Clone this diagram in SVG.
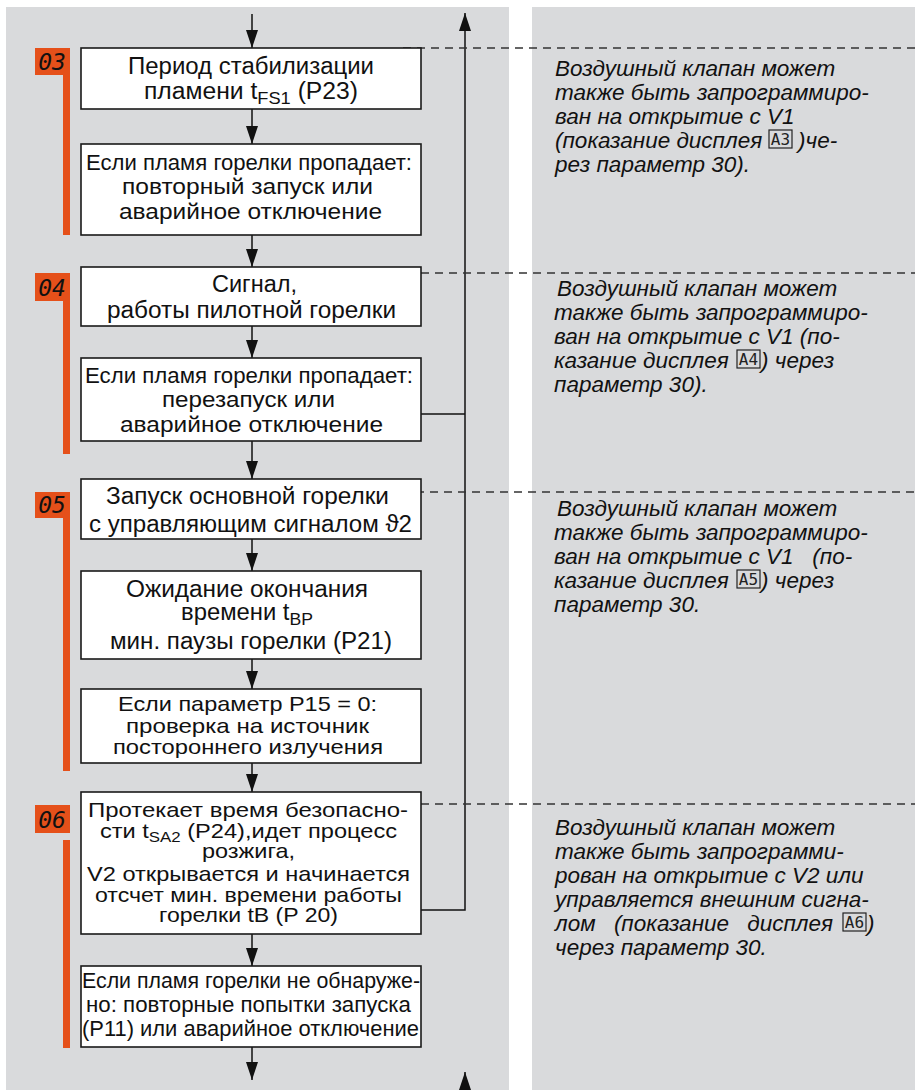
<svg xmlns="http://www.w3.org/2000/svg" width="915" height="1090" viewBox="0 0 915 1090">
<style>
.panel{fill:#D9DADC}
.box{fill:#fff;stroke:#1a1a1a;stroke-width:1.6}
.t{font-family:"Liberation Sans",Arial,sans-serif;fill:#111}
.note{font-family:"Liberation Sans",Arial,sans-serif;font-style:italic;font-size:22.5px;fill:#111}
.ln{stroke:#111;stroke-width:1.5;fill:none}
.dash{stroke:#333;stroke-width:1.3;stroke-dasharray:8 6;fill:none}
.badge{fill:#E5501A}
.bt{font-family:"DejaVu Sans Mono",monospace;font-style:italic;font-size:23px;fill:#111}
.ico{fill:none;stroke:#222;stroke-width:1.2}
.it{font-family:"DejaVu Sans Mono",monospace;font-size:16px;fill:#222}
</style>
<defs>
<marker id="ah" markerUnits="userSpaceOnUse" markerWidth="18" markerHeight="12" refX="18" refY="6" orient="auto">
<path d="M0,0 L18,6 L0,12 z" fill="#111"/>
</marker>
</defs>
<rect class="panel" x="6" y="7" width="503" height="1083"/>
<rect class="panel" x="532" y="7" width="383" height="1083"/>

<g id="connectors">
<path class="ln" d="M252,14 V48" marker-end="url(#ah)"/>
<path class="ln" d="M252,109 V144" marker-end="url(#ah)"/>
<path class="ln" d="M252,235 V267" marker-end="url(#ah)"/>
<path class="ln" d="M252,326 V358" marker-end="url(#ah)"/>
<path class="ln" d="M252,441 V479" marker-end="url(#ah)"/>
<path class="ln" d="M252,539 V571" marker-end="url(#ah)"/>
<path class="ln" d="M252,659 V689" marker-end="url(#ah)"/>
<path class="ln" d="M252,763 V792" marker-end="url(#ah)"/>
<path class="ln" d="M252,934 V966" marker-end="url(#ah)"/>
<path class="ln" d="M252,1047 V1080" marker-end="url(#ah)"/>
<path class="ln" d="M421,910 H465 V13" marker-end="url(#ah)"/>
<path class="ln" d="M421,414 H465"/>
<path class="ln" d="M465,1090 V1072" marker-end="url(#ah)"/>
<path class="dash" d="M403,48 H915"/>
<path class="dash" d="M421,273 H915"/>
<path class="dash" d="M402,492 H915"/>
<path class="dash" d="M421,804 H915"/>
</g>

<g id="badge03"><rect class="badge" x="35" y="48" width="35" height="27"/><rect class="badge" x="63" y="75" width="7" height="160"/><text class="bt" x="52" y="70" text-anchor="middle">03</text></g>
<g id="badge04"><rect class="badge" x="35" y="273" width="35" height="28"/><rect class="badge" x="63" y="301" width="7" height="153"/><text class="bt" x="52" y="296" text-anchor="middle">04</text></g>
<g id="badge05"><rect class="badge" x="35" y="492" width="35" height="26"/><rect class="badge" x="63" y="518" width="7" height="253"/><text class="bt" x="52" y="513" text-anchor="middle">05</text></g>
<g id="badge06"><rect class="badge" x="35" y="805" width="35" height="28"/><rect class="badge" x="63" y="840" width="7" height="208"/><text class="bt" x="52" y="828" text-anchor="middle">06</text></g>

<g id="box1"><rect class="box" x="81" y="48" width="340" height="61"/>
<text class="t" font-size="23" x="128" y="74" textLength="246" lengthAdjust="spacingAndGlyphs">Период стабилизации</text>
<text class="t" font-size="23" x="144" y="99" textLength="214" lengthAdjust="spacingAndGlyphs">пламени t<tspan font-size="17" dy="5">FS1</tspan><tspan dy="-5"> (P23)</tspan></text></g>

<g id="box2"><rect class="box" x="81" y="144" width="340" height="91"/>
<text class="t" font-size="22" x="86" y="170" textLength="326" lengthAdjust="spacingAndGlyphs">Если пламя горелки пропадает:</text>
<text class="t" font-size="22" x="122" y="194" textLength="251" lengthAdjust="spacingAndGlyphs">повторный запуск или</text>
<text class="t" font-size="22" x="119" y="219" textLength="263" lengthAdjust="spacingAndGlyphs">аварийное отключение</text></g>

<g id="box3"><rect class="box" x="81" y="267" width="340" height="59"/>
<text class="t" font-size="23" x="212" y="292" textLength="85" lengthAdjust="spacingAndGlyphs">Сигнал,</text>
<text class="t" font-size="23" x="107" y="318" textLength="289" lengthAdjust="spacingAndGlyphs">работы пилотной горелки</text></g>

<g id="box4"><rect class="box" x="81" y="358" width="340" height="83"/>
<text class="t" font-size="22" x="85" y="383" textLength="328" lengthAdjust="spacingAndGlyphs">Если пламя горелки пропадает:</text>
<text class="t" font-size="22" x="162" y="407" textLength="173" lengthAdjust="spacingAndGlyphs">перезапуск или</text>
<text class="t" font-size="22" x="120" y="432" textLength="263" lengthAdjust="spacingAndGlyphs">аварийное отключение</text></g>

<g id="box5"><rect class="box" x="81" y="479" width="340" height="60"/>
<text class="t" font-size="23" x="106" y="504" textLength="283" lengthAdjust="spacingAndGlyphs">Запуск основной горелки</text>
<text class="t" font-size="23" x="89" y="532" textLength="323" lengthAdjust="spacingAndGlyphs">с управляющим сигналом ϑ2</text></g>

<g id="box6"><rect class="box" x="81" y="571" width="340" height="88"/>
<text class="t" font-size="23" x="126" y="597" textLength="242" lengthAdjust="spacingAndGlyphs">Ожидание окончания</text>
<text class="t" font-size="23" x="181" y="620" textLength="132" lengthAdjust="spacingAndGlyphs">времени t<tspan font-size="17" dy="5">BP</tspan></text>
<text class="t" font-size="23" x="110" y="649" textLength="282" lengthAdjust="spacingAndGlyphs">мин. паузы горелки (P21)</text></g>

<g id="box7"><rect class="box" x="81" y="689" width="340" height="74"/>
<text class="t" font-size="21" x="118" y="711" textLength="259" lengthAdjust="spacingAndGlyphs">Если параметр P15 = 0:</text>
<text class="t" font-size="21" x="126" y="733" textLength="243" lengthAdjust="spacingAndGlyphs">проверка на источник</text>
<text class="t" font-size="21" x="113" y="754" textLength="270" lengthAdjust="spacingAndGlyphs">постороннего излучения</text></g>

<g id="box8"><rect class="box" x="81" y="792" width="340" height="142"/>
<text class="t" font-size="21" x="88" y="817" textLength="320" lengthAdjust="spacingAndGlyphs">Протекает время безопасно-</text>
<text class="t" font-size="21" x="100" y="838" textLength="297" lengthAdjust="spacingAndGlyphs">сти t<tspan font-size="15" dy="4">SA2</tspan><tspan dy="-4"> (P24),идет процесс</tspan></text>
<text class="t" font-size="21" x="202" y="858" textLength="93" lengthAdjust="spacingAndGlyphs">розжига,</text>
<text class="t" font-size="21" x="87" y="881" textLength="323" lengthAdjust="spacingAndGlyphs">V2 открывается и начинается</text>
<text class="t" font-size="21" x="95" y="902" textLength="307" lengthAdjust="spacingAndGlyphs">отсчет мин. времени работы</text>
<text class="t" font-size="21" x="159" y="922" textLength="179" lengthAdjust="spacingAndGlyphs">горелки tB (P 20)</text></g>

<g id="box9"><rect class="box" x="81" y="966" width="340" height="81"/>
<text class="t" font-size="22" x="82" y="988" textLength="338" lengthAdjust="spacingAndGlyphs">Если пламя горелки не обнаруже-</text>
<text class="t" font-size="22" x="86" y="1012" textLength="325" lengthAdjust="spacingAndGlyphs">но: повторные попытки запуска</text>
<text class="t" font-size="22" x="82" y="1036" textLength="337" lengthAdjust="spacingAndGlyphs">(P11) или аварийное отключение</text></g>

<g id="note03">
<text class="note" x="555" y="76">Воздушный клапан может</text>
<text class="note" x="555" y="100">также быть запрограммиро-</text>
<text class="note" x="555" y="124">ван на открытие с V1</text>
<text class="note" x="555" y="148">(показание дисплея</text>
<rect class="ico" x="769" y="130" width="23" height="18"/><text class="it" x="780.5" y="145" text-anchor="middle">A3</text>
<text class="note" x="798" y="148">)че-</text>
<text class="note" x="555" y="172">рез параметр 30).</text>
</g>

<g id="note04">
<text class="note" x="557" y="296">Воздушный клапан может</text>
<text class="note" x="554" y="320">также быть запрограммиро-</text>
<text class="note" x="554" y="344">ван на открытие с V1 (по-</text>
<text class="note" x="554" y="368">казание дисплея</text>
<rect class="ico" x="737" y="350" width="23" height="18"/><text class="it" x="748.5" y="365" text-anchor="middle">A4</text>
<text class="note" x="761" y="368">) через</text>
<text class="note" x="554" y="392">параметр 30).</text>
</g>

<g id="note05">
<text class="note" x="557" y="516">Воздушный клапан может</text>
<text class="note" x="554" y="540">также быть запрограммиро-</text>
<text class="note" x="554" y="564" xml:space="preserve">ван на открытие с V1   (по-</text>
<text class="note" x="554" y="588">казание дисплея</text>
<rect class="ico" x="737" y="570" width="23" height="18"/><text class="it" x="748.5" y="585" text-anchor="middle">A5</text>
<text class="note" x="761" y="588">) через</text>
<text class="note" x="554" y="612">параметр 30.</text>
</g>

<g id="note06">
<text class="note" x="555" y="835">Воздушный клапан может</text>
<text class="note" x="555" y="859">также быть запрограмми-</text>
<text class="note" x="555" y="883">рован на открытие с V2 или</text>
<text class="note" x="555" y="907">управляется внешним сигна-</text>
<text class="note" x="555" y="931" word-spacing="12">лом (показание дисплея</text>
<rect class="ico" x="843" y="913" width="23" height="18"/><text class="it" x="854.5" y="928" text-anchor="middle">A6</text>
<text class="note" x="867" y="931">)</text>
<text class="note" x="555" y="955">через параметр 30.</text>
</g>
</svg>
